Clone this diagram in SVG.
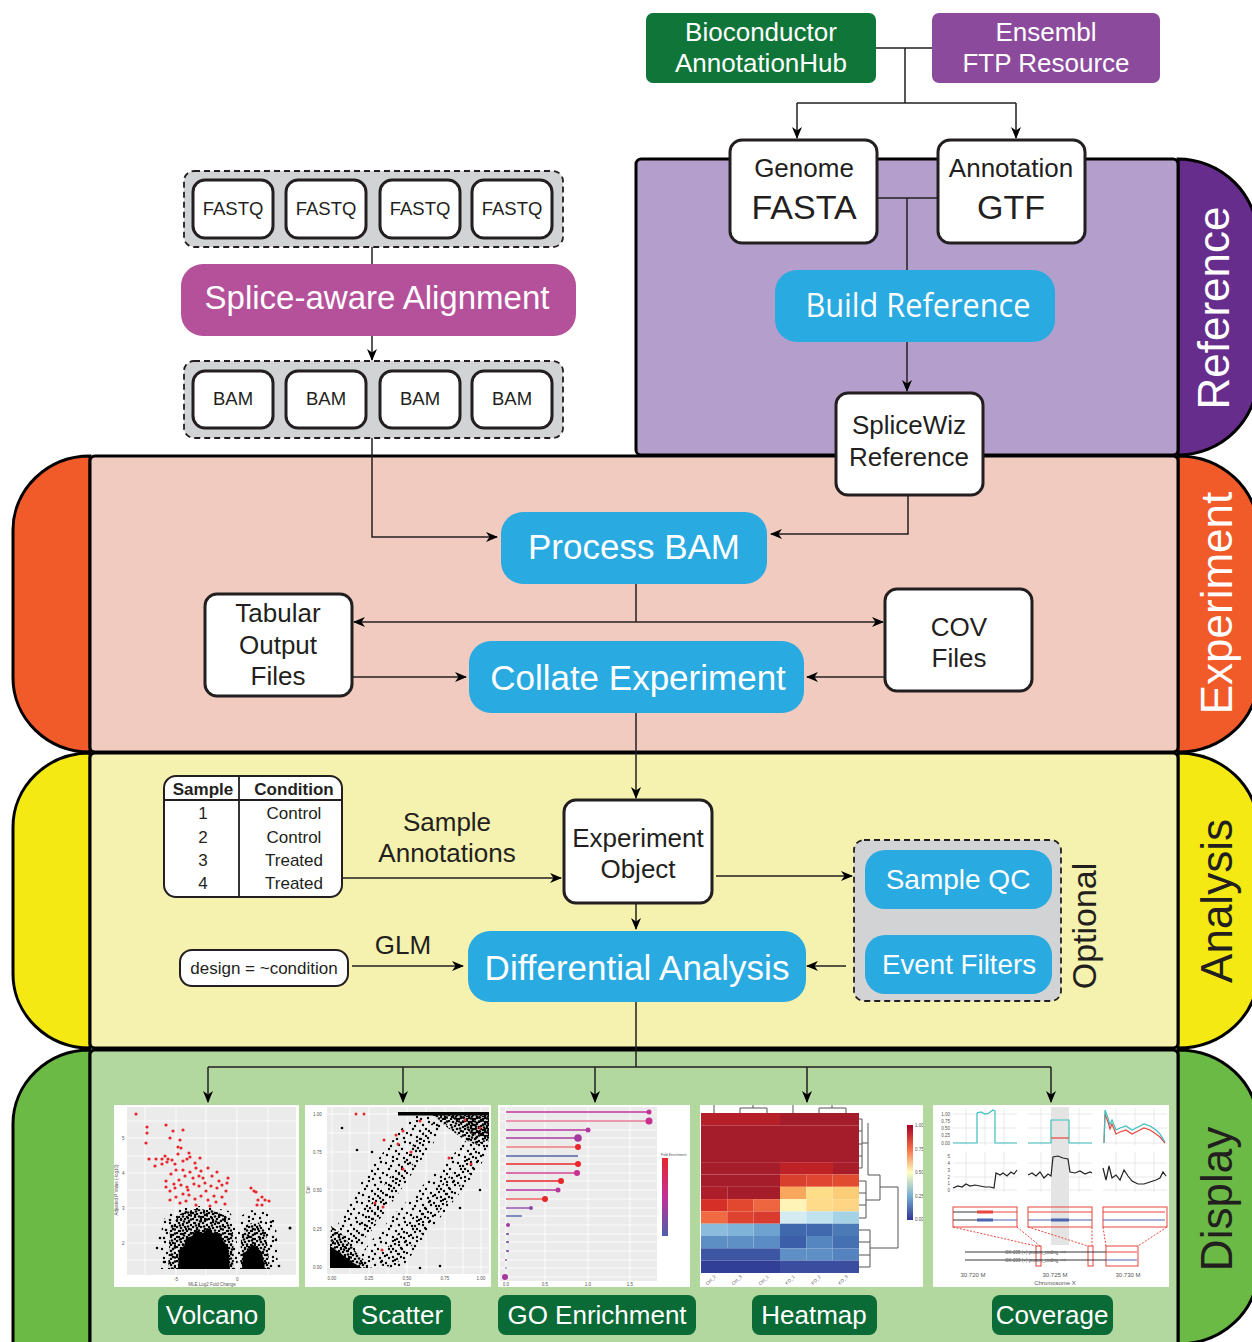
<svg xmlns="http://www.w3.org/2000/svg" width="1252" height="1342" viewBox="0 0 1252 1342">
<defs>
<style>
.t{font-family:"Liberation Sans",Arial,Helvetica,sans-serif}
.c{text-anchor:middle}
.w{fill:#fff}
.k{fill:#231f20}
.box{fill:#fff;stroke:#231f20;stroke-width:3}
.tbl{fill:#fff;stroke:#231f20;stroke-width:2}
.blue{fill:#29aae1}
.grp{fill:#d1d3d4;stroke:#231f20;stroke-width:1.8;stroke-dasharray:6 4}
.panel{stroke:#000;stroke-width:3}
.ln{fill:none;stroke:#231f20;stroke-width:1.5}
.arr{marker-end:url(#ah)}
.lbl{fill:#0b6b36}
.sec{font-size:44px}
.gl{stroke:#fff;stroke-width:0.8}
.tiny{font-size:4.5px;fill:#555}
</style>
<marker id="ah" viewBox="0 0 12 12" refX="11" refY="6" markerWidth="12" markerHeight="12" markerUnits="userSpaceOnUse" orient="auto">
<path d="M0,1 L12,6 L0,11 L3.5,6 Z" fill="#000"/>
</marker>
<!-- irregular dot tiles for the point clouds -->
<pattern id="psparse" width="24" height="20" patternUnits="userSpaceOnUse">
<g><circle cx="2" cy="3" r="1.2"/><circle cx="9" cy="1" r="1.2"/><circle cx="15" cy="5" r="1.2"/><circle cx="21" cy="2" r="1.2"/><circle cx="5" cy="9" r="1.2"/><circle cx="12" cy="11" r="1.2"/><circle cx="18" cy="9" r="1.2"/><circle cx="23" cy="13" r="1.2"/><circle cx="3" cy="15" r="1.2"/><circle cx="9" cy="17" r="1.2"/><circle cx="15" cy="14" r="1.2"/><circle cx="20" cy="18" r="1.2"/><circle cx="7" cy="6" r="1.2"/><circle cx="13" cy="19" r="1.2"/></g>
</pattern>
<pattern id="pdense" width="16" height="14" patternUnits="userSpaceOnUse">
<g><circle cx="1" cy="1" r="1.3"/><circle cx="5" cy="2" r="1.3"/><circle cx="9" cy="1" r="1.3"/><circle cx="13" cy="3" r="1.3"/><circle cx="3" cy="5" r="1.3"/><circle cx="7" cy="6" r="1.3"/><circle cx="11" cy="5" r="1.3"/><circle cx="15" cy="7" r="1.3"/><circle cx="1" cy="9" r="1.3"/><circle cx="5" cy="10" r="1.3"/><circle cx="9" cy="9" r="1.3"/><circle cx="13" cy="11" r="1.3"/><circle cx="3" cy="13" r="1.3"/><circle cx="7" cy="12.5" r="1.3"/><circle cx="11" cy="13" r="1.3"/><circle cx="15" cy="1.5" r="1.3"/><circle cx="8" cy="3.5" r="1.3"/><circle cx="12" cy="8.5" r="1.3"/><circle cx="4" cy="7.5" r="1.3"/><circle cx="15" cy="11.5" r="1.3"/></g>
</pattern>
<linearGradient id="goBar" x1="0" y1="0" x2="0" y2="1"><stop offset="0" stop-color="#e8262b"/><stop offset="0.5" stop-color="#c2309a"/><stop offset="1" stop-color="#4d5fab"/></linearGradient>
<linearGradient id="hmBar" x1="0" y1="0" x2="0" y2="1"><stop offset="0" stop-color="#a50026"/><stop offset="0.25" stop-color="#f46d43"/><stop offset="0.5" stop-color="#ffffbf"/><stop offset="0.75" stop-color="#74add1"/><stop offset="1" stop-color="#313695"/></linearGradient>
<clipPath id="cVol"><rect x="114" y="1105" width="185" height="182"/></clipPath>
<clipPath id="cSca"><rect x="305" y="1105" width="186" height="182"/></clipPath>
<clipPath id="cHm"><rect x="700" y="1105" width="223" height="182"/></clipPath>
</defs>

<!-- section tabs and panels -->
<g id="section-reference">
<path class="panel" fill="#662d8c" d="M1178,159 A80,80 0 0 1 1258,239 V375 A80,80 0 0 1 1178,455 Z"/>
<rect class="panel" x="636" y="159" width="542" height="296" rx="5" fill="#b49ecb"/>
<text class="t c w sec" transform="translate(1229,308) rotate(-90)">Reference</text>
</g>
<g id="section-experiment">
<path class="panel" fill="#f15a29" d="M90,456 A77,74 0 0 0 13,530 V678 A77,74 0 0 0 90,752 Z"/>
<path class="panel" fill="#f15a29" d="M1178,456 A80,74 0 0 1 1258,530 V678 A80,74 0 0 1 1178,752 Z"/>
<rect class="panel" x="90" y="456" width="1088" height="296" rx="5" fill="#f1cbc0"/>
<text class="t c w sec" transform="translate(1232,603) rotate(-90)">Experiment</text>
</g>
<g id="section-analysis">
<path class="panel" fill="#f4e913" d="M90,753 A77,74 0 0 0 13,827 V974 A77,74 0 0 0 90,1048 Z"/>
<path class="panel" fill="#f4e913" d="M1178,753 A80,74 0 0 1 1258,827 V974 A80,74 0 0 1 1178,1048 Z"/>
<rect class="panel" x="90" y="753" width="1088" height="295" rx="5" fill="#f5f1ae"/>
<text class="t c k sec" transform="translate(1232,901) rotate(-90)">Analysis</text>
</g>
<g id="section-display">
<path class="panel" fill="#6aba45" d="M90,1050 A77,74 0 0 0 13,1124 V1345 H90 Z"/>
<path class="panel" fill="#6aba45" d="M1178,1050 A80,74 0 0 1 1258,1124 V1270 A80,74 0 0 1 1178,1344 Z"/>
<rect class="panel" x="90" y="1050" width="1088" height="300" rx="5" fill="#b2d8a0"/>
<text class="t c k sec" transform="translate(1232,1199) rotate(-90)">Display</text>
</g>

<!-- connectors -->
<g id="connectors">
<path class="ln" d="M876,48 H932 M905,48 V103 M797,103 H1016"/>
<path class="ln arr" d="M797,103 V138"/>
<path class="ln arr" d="M1016,103 V138"/>
<path class="ln" d="M877,198 H938 M907,198 V270"/>
<path class="ln arr" d="M907,342 V391"/>
<path class="ln arr" d="M908,495 V534 H771"/>
<path class="ln" d="M372,247 V264"/>
<path class="ln arr" d="M372,336 V360"/>
<path class="ln arr" d="M372,438 V537 H497"/>
<path class="ln" d="M636,584 V622"/>
<path class="ln arr" d="M636,622 H354"/>
<path class="ln arr" d="M636,622 H883"/>
<path class="ln arr" d="M352,677 H466"/>
<path class="ln arr" d="M887,677 H807"/>
<path class="ln arr" d="M636,713 V798"/>
<path class="ln arr" d="M342,878 H561"/>
<path class="ln arr" d="M716,876 H852"/>
<path class="ln arr" d="M636,903 V929"/>
<path class="ln arr" d="M959,910 V934"/>
<path class="ln arr" d="M846,966 H807"/>
<path class="ln arr" d="M352,966 H463"/>
<path class="ln" d="M636,1002 V1067 M208,1067 H1051"/>
<path class="ln arr" d="M208,1067 V1102"/>
<path class="ln arr" d="M403,1067 V1102"/>
<path class="ln arr" d="M595,1067 V1102"/>
<path class="ln arr" d="M807,1067 V1102"/>
<path class="ln arr" d="M1051,1067 V1102"/>
</g>

<!-- reference sources -->
<g id="bioconductor">
<rect x="646" y="13" width="230" height="70" rx="7" fill="#0f7539"/>
<text class="t c w" font-size="26" x="761" y="41">Bioconductor</text>
<text class="t c w" font-size="26" x="761" y="72">AnnotationHub</text>
</g>
<g id="ensembl">
<rect x="932" y="13" width="228" height="70" rx="7" fill="#8c4a9d"/>
<text class="t c w" font-size="26" x="1046" y="41">Ensembl</text>
<text class="t c w" font-size="26" x="1046" y="72">FTP Resource</text>
</g>
<g id="genome-fasta">
<rect class="box" x="730" y="140" width="147" height="103" rx="12"/>
<text class="t c k" font-size="26" x="804" y="177">Genome</text>
<text class="t c k" font-size="34" x="804" y="219">FASTA</text>
</g>
<g id="annotation-gtf">
<rect class="box" x="938" y="140" width="147" height="103" rx="12"/>
<text class="t c k" font-size="26" x="1011" y="177">Annotation</text>
<text class="t c k" font-size="34" x="1011" y="219">GTF</text>
</g>
<g id="build-reference">
<rect class="blue" x="775" y="270" width="280" height="72" rx="22"/>
<text class="c w" font-family="'Open Sans','Noto Sans',sans-serif" font-size="33" x="918" y="317" textLength="225" lengthAdjust="spacingAndGlyphs">Build Reference</text>
</g>
<g id="splicewiz-reference">
<rect class="box" x="836" y="393" width="147" height="102" rx="12"/>
<text class="t c k" font-size="26" x="909" y="434">SpliceWiz</text>
<text class="t c k" font-size="26" x="909" y="466">Reference</text>
</g>

<!-- alignment inputs -->
<g id="fastq-files">
<rect class="grp" x="184" y="171" width="379" height="76" rx="10"/>
<rect class="box" x="193" y="180" width="80" height="58" rx="12"/>
<rect class="box" x="286" y="180" width="80" height="58" rx="12"/>
<rect class="box" x="380" y="180" width="80" height="58" rx="12"/>
<rect class="box" x="472" y="180" width="80" height="58" rx="12"/>
<text class="t c k" font-size="18.5" x="233" y="215">FASTQ</text>
<text class="t c k" font-size="18.5" x="326" y="215">FASTQ</text>
<text class="t c k" font-size="18.5" x="420" y="215">FASTQ</text>
<text class="t c k" font-size="18.5" x="512" y="215">FASTQ</text>
</g>
<g id="splice-aware-alignment">
<rect x="181" y="264" width="395" height="72" rx="22" fill="#b5519b"/>
<text class="t c w" font-size="33" x="377" y="309">Splice-aware Alignment</text>
</g>
<g id="bam-files">
<rect class="grp" x="184" y="361" width="379" height="77" rx="10"/>
<rect class="box" x="193" y="371" width="80" height="57" rx="12"/>
<rect class="box" x="286" y="371" width="80" height="57" rx="12"/>
<rect class="box" x="380" y="371" width="80" height="57" rx="12"/>
<rect class="box" x="472" y="371" width="80" height="57" rx="12"/>
<text class="t c k" font-size="18.5" x="233" y="405">BAM</text>
<text class="t c k" font-size="18.5" x="326" y="405">BAM</text>
<text class="t c k" font-size="18.5" x="420" y="405">BAM</text>
<text class="t c k" font-size="18.5" x="512" y="405">BAM</text>
</g>

<!-- experiment -->
<g id="process-bam">
<rect class="blue" x="501" y="512" width="266" height="72" rx="22"/>
<text class="t c w" font-size="35" x="634" y="559">Process BAM</text>
</g>
<g id="tabular-output">
<rect class="box" x="205" y="594" width="147" height="102" rx="12"/>
<text class="t c k" font-size="26" x="278" y="622">Tabular</text>
<text class="t c k" font-size="26" x="278" y="654">Output</text>
<text class="t c k" font-size="26" x="278" y="685">Files</text>
</g>
<g id="cov-files">
<rect class="box" x="885" y="589" width="147" height="102" rx="12"/>
<text class="t c k" font-size="26" x="959" y="636">COV</text>
<text class="t c k" font-size="26" x="959" y="667">Files</text>
</g>
<g id="collate-experiment">
<rect class="blue" x="469" y="641" width="335" height="72" rx="22"/>
<text class="t c w" font-size="35" x="638" y="690">Collate Experiment</text>
</g>

<!-- analysis -->
<g id="sample-table">
<rect class="tbl" x="164" y="776" width="178" height="121" rx="12"/>
<path d="M165,800 H341 M239,777 V896" stroke="#231f20" stroke-width="1.8"/>
<text class="t c k" font-size="17" font-weight="bold" x="203" y="795">Sample</text>
<text class="t c k" font-size="17" font-weight="bold" x="294" y="795">Condition</text>
<g class="t c k" font-size="17">
<text x="203" y="819">1</text><text x="294" y="819">Control</text>
<text x="203" y="843">2</text><text x="294" y="843">Control</text>
<text x="203" y="866">3</text><text x="294" y="866">Treated</text>
<text x="203" y="889">4</text><text x="294" y="889">Treated</text>
</g>
</g>
<g id="sample-annotations-label">
<text class="t c k" font-size="26" x="447" y="831">Sample</text>
<text class="t c k" font-size="26" x="447" y="862">Annotations</text>
</g>
<g id="experiment-object">
<rect class="box" x="564" y="800" width="148" height="103" rx="12"/>
<text class="t c k" font-size="26" x="638" y="847">Experiment</text>
<text class="t c k" font-size="26" x="638" y="878">Object</text>
</g>
<g id="optional-steps">
<rect class="grp" x="854" y="840" width="207" height="161" rx="10"/>
<text class="t c k" font-size="34" transform="translate(1096,926) rotate(-90)">Optional</text>
</g>
<g id="sample-qc">
<rect class="blue" x="865" y="850" width="187" height="59" rx="20"/>
<text class="t c w" font-size="28" x="958" y="889">Sample QC</text>
</g>
<g id="event-filters">
<rect class="blue" x="865" y="935" width="187" height="59" rx="20"/>
<text class="t c w" font-size="28" x="959" y="974" textLength="154" lengthAdjust="spacingAndGlyphs">Event Filters</text>
</g>
<g id="design-formula">
<rect class="tbl" x="180" y="950" width="168" height="36" rx="12"/>
<text class="t c k" font-size="17" x="264" y="974">design = ~condition</text>
</g>
<g id="glm-label">
<text class="t c k" font-size="26" x="403" y="954">GLM</text>
</g>
<g id="differential-analysis">
<rect class="blue" x="468" y="931" width="338" height="71" rx="22"/>
<text class="t c w" font-size="35" x="637" y="980">Differential Analysis</text>
</g>

<!-- display: volcano plot -->
<g id="volcano" clip-path="url(#cVol)">
<rect x="114" y="1105" width="185" height="182" fill="#fff"/>
<rect x="127" y="1107" width="169" height="168" fill="#ebebeb"/>
<path class="gl" d="M145,1107 V1275 M176,1107 V1275 M206,1107 V1275 M237,1107 V1275 M268,1107 V1275 M127,1121 H296 M127,1138 H296 M127,1156 H296 M127,1173 H296 M127,1190 H296 M127,1208 H296 M127,1225 H296 M127,1243 H296 M127,1260 H296"/>
<g class="t tiny"><text x="122" y="1140">5</text><text x="122" y="1175">4</text><text x="122" y="1210">3</text><text x="122" y="1245">2</text>
<text x="174" y="1281">-5</text><text x="236" y="1281">0</text>
<text class="c" x="212" y="1286">MLE Log2 Fold Change</text>
<text class="c" transform="translate(118,1190) rotate(-90)">Adjusted P Value (-log10)</text></g>
<path fill="url(#psparse)" d="M162,1222 L170,1211 L185,1208 L200,1206 L215,1208 L229,1211 L236,1222 L238,1269 L160,1269 Z"/>
<path fill="url(#pdense)" d="M168,1269 L170,1228 L180,1214 L195,1209 L212,1210 L226,1216 L233,1232 L234,1269 Z"/>
<path d="M178,1269 L179,1250 L184,1246 L186,1238 L192,1236 L196,1230 L203,1233 L208,1228 L214,1234 L220,1233 L224,1242 L228,1246 L230,1269 Z"/>
<path fill="url(#psparse)" d="M238,1218 L250,1210 L266,1212 L276,1222 L278,1269 L238,1269 Z"/>
<path fill="url(#pdense)" d="M240,1269 L241,1238 L248,1224 L258,1222 L266,1232 L270,1269 Z"/>
<path d="M242,1269 L243,1254 L248,1250 L252,1244 L257,1248 L262,1252 L265,1269 Z"/>
<g><circle cx="170" cy="1220" r="1.3"/><circle cx="172" cy="1226" r="1.3"/><circle cx="166" cy="1230" r="1.3"/><circle cx="290" cy="1228" r="1.5"/><circle cx="279" cy="1266" r="1.3"/><circle cx="271" cy="1222" r="1.3"/><circle cx="276" cy="1240" r="1.3"/><circle cx="160" cy="1238" r="1.3"/><circle cx="186" cy="1212" r="1.3"/><circle cx="157" cy="1248" r="1.3"/><circle cx="164" cy="1262" r="1.3"/></g>
<g fill="#e8262b">
<circle cx="136" cy="1114" r="1.6"/><circle cx="147" cy="1127" r="1.6"/><circle cx="147" cy="1133" r="1.6"/><circle cx="146" cy="1143" r="1.6"/><circle cx="166" cy="1125" r="1.6"/><circle cx="173" cy="1131" r="1.6"/><circle cx="183" cy="1130" r="1.6"/><circle cx="170" cy="1138" r="1.6"/><circle cx="178" cy="1147" r="1.6"/><circle cx="181" cy="1148" r="1.6"/><circle cx="165" cy="1156" r="1.6"/><circle cx="178" cy="1154" r="1.6"/><circle cx="187" cy="1159" r="1.6"/><circle cx="190" cy="1157" r="1.6"/><circle cx="183" cy="1161" r="1.6"/><circle cx="175" cy="1164" r="1.6"/><circle cx="195" cy="1163" r="1.6"/><circle cx="149" cy="1159" r="1.6"/><circle cx="156" cy="1159" r="1.6"/><circle cx="162" cy="1159" r="1.6"/><circle cx="168" cy="1159" r="1.6"/><circle cx="172" cy="1160" r="1.6"/><circle cx="162" cy="1164" r="1.6"/><circle cx="167" cy="1162" r="1.6"/><circle cx="176" cy="1170" r="1.6"/><circle cx="183" cy="1170" r="1.6"/><circle cx="190" cy="1172" r="1.6"/><circle cx="196" cy="1168" r="1.6"/><circle cx="201" cy="1171" r="1.6"/><circle cx="208" cy="1168" r="1.6"/><circle cx="212" cy="1176" r="1.6"/><circle cx="217" cy="1172" r="1.6"/><circle cx="203" cy="1178" r="1.6"/><circle cx="193" cy="1178" r="1.6"/><circle cx="185" cy="1176" r="1.6"/><circle cx="179" cy="1180" r="1.6"/><circle cx="171" cy="1174" r="1.6"/><circle cx="166" cy="1181" r="1.6"/><circle cx="166" cy="1187" r="1.6"/><circle cx="170" cy="1191" r="1.6"/><circle cx="175" cy="1188" r="1.6"/><circle cx="181" cy="1185" r="1.6"/><circle cx="187" cy="1187" r="1.6"/><circle cx="194" cy="1184" r="1.6"/><circle cx="199" cy="1186" r="1.6"/><circle cx="205" cy="1183" r="1.6"/><circle cx="211" cy="1186" r="1.6"/><circle cx="217" cy="1188" r="1.6"/><circle cx="222" cy="1185" r="1.6"/><circle cx="226" cy="1191" r="1.6"/><circle cx="227" cy="1183" r="1.6"/><circle cx="222" cy="1197" r="1.6"/><circle cx="214" cy="1196" r="1.6"/><circle cx="208" cy="1200" r="1.6"/><circle cx="201" cy="1196" r="1.6"/><circle cx="195" cy="1199" r="1.6"/><circle cx="189" cy="1195" r="1.6"/><circle cx="183" cy="1194" r="1.6"/><circle cx="176" cy="1197" r="1.6"/><circle cx="170" cy="1200" r="1.6"/><circle cx="180" cy="1203" r="1.6"/><circle cx="196" cy="1205" r="1.6"/><circle cx="210" cy="1206" r="1.6"/><circle cx="225" cy="1204" r="1.6"/><circle cx="228" cy="1178" r="1.6"/><circle cx="189" cy="1153" r="1.6"/><circle cx="180" cy="1140" r="1.6"/><circle cx="200" cy="1158" r="1.6"/><circle cx="155" cy="1166" r="1.6"/><circle cx="206" cy="1191" r="1.6"/><circle cx="188" cy="1190" r="1.6"/><circle cx="186" cy="1201" r="1.6"/><circle cx="216" cy="1202" r="1.6"/><circle cx="174" cy="1184" r="1.6"/><circle cx="199" cy="1176" r="1.6"/><circle cx="219" cy="1181" r="1.6"/>
<circle cx="251" cy="1188" r="1.6"/><circle cx="254" cy="1191" r="1.6"/><circle cx="256" cy="1192" r="1.6"/><circle cx="258" cy="1200" r="1.6"/><circle cx="262" cy="1197" r="1.6"/><circle cx="265" cy="1200" r="1.6"/><circle cx="269" cy="1201" r="1.6"/><circle cx="257" cy="1205" r="1.6"/><circle cx="262" cy="1205" r="1.6"/>
</g>
</g>

<!-- display: scatter plot -->
<g id="scatter" clip-path="url(#cSca)">
<rect x="305" y="1105" width="186" height="182" fill="#fff"/>
<rect x="327" y="1107" width="162" height="167" fill="#ebebeb"/>
<path class="gl" d="M332,1107 V1274 M350,1107 V1274 M369,1107 V1274 M388,1107 V1274 M407,1107 V1274 M426,1107 V1274 M445,1107 V1274 M463,1107 V1274 M481,1107 V1274 M327,1114 H489 M327,1133 H489 M327,1152 H489 M327,1171 H489 M327,1190 H489 M327,1210 H489 M327,1229 H489 M327,1248 H489 M327,1267 H489"/>
<g class="t tiny"><text x="313" y="1116">1.00</text><text x="313" y="1154">0.75</text><text x="313" y="1192">0.50</text><text x="313" y="1231">0.25</text><text x="313" y="1269">0.00</text>
<text class="c" x="332" y="1280">0.00</text><text class="c" x="369" y="1280">0.25</text><text class="c" x="407" y="1280">0.50</text><text class="c" x="445" y="1280">0.75</text><text class="c" x="481" y="1280">1.00</text>
<text class="c" x="407" y="1286">KD</text><text class="c" transform="translate(310,1190) rotate(-90)">Ctrl</text></g>
<path fill="url(#psparse)" d="M331,1250 L336,1228 L350,1200 L368,1172 L388,1146 L405,1124 L418,1114 L455,1114 L440,1134 L420,1162 L398,1194 L372,1230 L352,1262 L336,1266 Z"/>
<path fill="url(#psparse)" transform="translate(3,2)" d="M340,1250 L356,1220 L376,1190 L395,1164 L412,1140 L428,1122 L440,1116 L425,1140 L405,1170 L385,1200 L362,1236 Z"/>
<path fill="url(#psparse)" d="M350,1268 L372,1240 L398,1210 L424,1184 L450,1158 L470,1136 L487,1120 L489,1152 L472,1178 L448,1208 L424,1238 L402,1268 Z"/>
<path fill="url(#psparse)" transform="translate(2,3)" d="M372,1262 L395,1232 L420,1204 L445,1176 L468,1150 L484,1132 L484,1150 L462,1178 L438,1208 L412,1240 L392,1264 Z"/>
<path fill="url(#pdense)" d="M430,1113 L489,1113 L489,1140 L476,1145 L462,1138 L448,1128 Z"/>
<path fill="url(#pdense)" transform="translate(4,3)" d="M446,1113 L485,1113 L485,1134 L470,1132 Z"/>
<rect x="398" y="1112" width="91" height="3.5"/>
<path d="M330,1268 L330,1246 L336,1250 L344,1256 L352,1262 L362,1268 Z"/>
<path fill="url(#pdense)" d="M330,1246 L331,1226 L342,1234 L356,1252 L372,1268 L352,1268 Z"/>
<circle cx="342" cy="1128" r="1.3"/><circle cx="357" cy="1150" r="1.3"/><circle cx="372" cy="1152" r="1.3"/><circle cx="420" cy="1268" r="1.3"/><circle cx="440" cy="1266" r="1.3"/><circle cx="480" cy="1190" r="1.3"/><circle cx="460" cy="1208" r="1.3"/>
<g fill="#e8262b"><circle cx="356" cy="1114" r="1.5"/><circle cx="364" cy="1114" r="1.5"/><circle cx="384" cy="1140" r="1.5"/><circle cx="396" cy="1135" r="1.5"/><circle cx="403" cy="1131" r="1.5"/><circle cx="398" cy="1144" r="1.5"/><circle cx="411" cy="1152" r="1.5"/><circle cx="403" cy="1169" r="1.5"/><circle cx="375" cy="1203" r="1.5"/><circle cx="383" cy="1207" r="1.5"/><circle cx="382" cy="1250" r="1.5"/><circle cx="449" cy="1158" r="1.5"/><circle cx="465" cy="1120" r="1.5"/><circle cx="480" cy="1128" r="1.5"/><circle cx="471" cy="1164" r="1.5"/><circle cx="420" cy="1121" r="1.5"/></g>
</g>

<!-- display: GO enrichment lollipop -->
<g id="go-enrichment">
<rect x="498" y="1105" width="192" height="182" fill="#fff"/>
<rect x="500" y="1107" width="157" height="174" fill="#ebebeb"/>
<path class="gl" d="M506,1107 V1281 M545,1107 V1281 M588,1107 V1281 M630,1107 V1281 M500,1112 H657 M500,1121 H657 M500,1130 H657 M500,1138 H657 M500,1147 H657 M500,1156 H657 M500,1164 H657 M500,1173 H657 M500,1181 H657 M500,1190 H657 M500,1199 H657 M500,1208 H657 M500,1216 H657 M500,1225 H657 M500,1234 H657 M500,1242 H657 M500,1251 H657 M500,1260 H657 M500,1268 H657 M500,1277 H657"/>
<g stroke-width="1.4">
<path stroke="#c2309a" d="M506,1112 H649"/><path stroke="#e8789a" d="M506,1121 H649"/><path stroke="#b8359c" d="M506,1130 H588"/><path stroke="#a7389d" d="M506,1138 H578"/><path stroke="#ee7a7a" d="M506,1147 H578"/><path stroke="#5360a8" d="M506,1156 H578"/><path stroke="#e8262b" d="M506,1164 H578"/><path stroke="#d04590" d="M506,1173 H577"/><path stroke="#e8262b" d="M506,1181 H561"/><path stroke="#b8359c" d="M506,1190 H558"/><path stroke="#ee6060" d="M506,1199 H545"/><path stroke="#8b47a5" d="M506,1208 H531"/><path stroke="#4d5fab" d="M506,1216 H522"/><path stroke="#7a4ba5" d="M506,1234 H508 M506,1242 H508 M506,1251 H508"/>
</g>
<g>
<circle cx="649" cy="1112" r="2.5" fill="#c2309a"/><circle cx="649" cy="1121" r="3.5" fill="#c8308f"/><circle cx="588" cy="1130" r="2.5" fill="#b8359c"/><circle cx="578" cy="1138" r="3.8" fill="#a7389d"/><circle cx="578" cy="1147" r="3" fill="#e8262b"/><circle cx="578" cy="1164" r="3" fill="#e8262b"/><circle cx="577" cy="1173" r="3" fill="#c8308f"/><circle cx="561" cy="1181" r="3" fill="#e8262b"/><circle cx="558" cy="1190" r="2.5" fill="#b8359c"/><circle cx="545" cy="1199" r="3" fill="#e8262b"/><circle cx="531" cy="1208" r="2" fill="#8b47a5"/><circle cx="508" cy="1225" r="2" fill="#a7389d"/><circle cx="508" cy="1234" r="1" fill="#7a4ba5"/><circle cx="508" cy="1242" r="1" fill="#7a4ba5"/><circle cx="508" cy="1251" r="1" fill="#7a4ba5"/><circle cx="506" cy="1260" r="0.9" fill="#7a4ba5"/><circle cx="506" cy="1268" r="0.8" fill="#7a4ba5"/><circle cx="505" cy="1277" r="3" fill="#a7389d"/>
</g>
<rect x="662" y="1158" width="6" height="78" fill="url(#goBar)"/>
<g class="t tiny"><text x="661" y="1156" font-size="3.5">Fold Enrichment</text>
<text class="c" x="506" y="1286">0.0</text><text class="c" x="545" y="1286">0.5</text><text class="c" x="588" y="1286">1.0</text><text class="c" x="630" y="1286">1.5</text></g>
</g>

<!-- display: heatmap -->
<g id="heatmap" clip-path="url(#cHm)">
<rect x="700" y="1105" width="223" height="182" fill="#fff"/>
<path fill="none" stroke="#555" stroke-width="1" d="M714,1113 V1104 H753 V1108 M740,1113 V1108 H767 V1113 M793,1113 V1103 H832 V1108 M819,1113 V1108 H846 V1113"/>
<g>
<rect x="701" y="1113" width="79" height="12.3" fill="#b51f27"/><rect x="780" y="1113" width="79" height="12.3" fill="#a51c2b"/>
<rect x="701" y="1125.3" width="158" height="37" fill="#a51c2b"/>
<rect x="701" y="1162.2" width="79" height="12.3" fill="#a51c2b"/><rect x="780" y="1162.2" width="53" height="12.3" fill="#be2126"/><rect x="833" y="1162.2" width="26" height="12.3" fill="#a91c2a"/>
<rect x="701" y="1174.5" width="79" height="12.3" fill="#a51c2b"/><rect x="780" y="1174.5" width="26.3" height="12.3" fill="#d8402d"/><rect x="806.3" y="1174.5" width="26.3" height="12.3" fill="#df4530"/><rect x="832.6" y="1174.5" width="26.4" height="12.3" fill="#e14c31"/>
<rect x="701" y="1186.8" width="26.3" height="12.3" fill="#ae1e2a"/><rect x="727.3" y="1186.8" width="52.7" height="12.3" fill="#a51c2b"/><rect x="780" y="1186.8" width="26.3" height="12.3" fill="#f8a85d"/><rect x="806.3" y="1186.8" width="26.3" height="12.3" fill="#fddd88"/><rect x="832.6" y="1186.8" width="26.4" height="12.3" fill="#fccd77"/>
<rect x="701" y="1199.1" width="26.3" height="12.3" fill="#d62f27"/><rect x="727.3" y="1199.1" width="26.3" height="12.3" fill="#e2482f"/><rect x="753.6" y="1199.1" width="26.4" height="12.3" fill="#ee6640"/><rect x="780" y="1199.1" width="26.3" height="12.3" fill="#fff4b8"/><rect x="806.3" y="1199.1" width="26.3" height="12.3" fill="#fedb8a"/><rect x="832.6" y="1199.1" width="26.4" height="12.3" fill="#fdd584"/>
<rect x="701" y="1211.4" width="26.3" height="12.3" fill="#f06a42"/><rect x="727.3" y="1211.4" width="26.3" height="12.3" fill="#de432f"/><rect x="753.6" y="1211.4" width="26.4" height="12.3" fill="#d93c2e"/><rect x="780" y="1211.4" width="26.3" height="12.3" fill="#d4ebf2"/><rect x="806.3" y="1211.4" width="26.3" height="12.3" fill="#c0e2ef"/><rect x="832.6" y="1211.4" width="26.4" height="12.3" fill="#a6d2e6"/>
<rect x="701" y="1223.7" width="26.3" height="12.3" fill="#8bbcdb"/><rect x="727.3" y="1223.7" width="26.3" height="12.3" fill="#7fb3d7"/><rect x="753.6" y="1223.7" width="26.4" height="12.3" fill="#6fa3cf"/><rect x="780" y="1223.7" width="26.3" height="12.3" fill="#4068ad"/><rect x="806.3" y="1223.7" width="26.3" height="12.3" fill="#4169ad"/><rect x="832.6" y="1223.7" width="26.4" height="12.3" fill="#4c7ab6"/>
<rect x="701" y="1236" width="26.3" height="12.3" fill="#5d8fc5"/><rect x="727.3" y="1236" width="26.3" height="12.3" fill="#5e90c5"/><rect x="753.6" y="1236" width="26.4" height="12.3" fill="#5b8cc3"/><rect x="780" y="1236" width="26.3" height="12.3" fill="#3c5fa9"/><rect x="806.3" y="1236" width="26.3" height="12.3" fill="#5586c0"/><rect x="832.6" y="1236" width="26.4" height="12.3" fill="#4570b1"/>
<rect x="701" y="1248.3" width="79" height="12.3" fill="#3c56a4"/><rect x="780" y="1248.3" width="26.3" height="12.3" fill="#5f90c5"/><rect x="806.3" y="1248.3" width="26.3" height="12.3" fill="#5e8fc5"/><rect x="832.6" y="1248.3" width="26.4" height="12.3" fill="#5583bf"/>
<rect x="701" y="1260.6" width="79" height="12.4" fill="#313f96"/><rect x="780" y="1260.6" width="79" height="12.4" fill="#3b4d9f"/>
</g>
<path fill="none" stroke="#555" stroke-width="1" d="M859,1119 H862 M859,1131 H862 M859,1144 H862 M859,1156 H862 M859,1168 H862 M862,1119 V1168 M862,1143 H868 M868,1123 V1175 H880 M859,1181 H866 M859,1193 H866 M859,1205 H866 M859,1218 H866 M866,1181 V1218 M866,1200 H880 M880,1175 V1200 M880,1187 H898 M859,1230 H870 M859,1242 H870 M859,1255 H870 M859,1267 H870 M870,1230 V1267 M870,1248 H898 M898,1187 V1248"/>
<rect x="907" y="1125" width="6" height="95" fill="url(#hmBar)"/>
<g class="t tiny" font-size="3.5"><text x="915" y="1127">1.00</text><text x="915" y="1151">0.75</text><text x="915" y="1174">0.50</text><text x="915" y="1198">0.25</text><text x="915" y="1221">0.00</text></g>
<g class="t tiny" font-size="4" text-anchor="end">
<text transform="translate(716,1277) rotate(-45)">Ctrl_2</text><text transform="translate(742,1277) rotate(-45)">Ctrl_3</text><text transform="translate(769,1277) rotate(-45)">Ctrl_1</text><text transform="translate(795,1277) rotate(-45)">KD_1</text><text transform="translate(821,1277) rotate(-45)">KD_2</text><text transform="translate(848,1277) rotate(-45)">KD_3</text>
</g>
</g>

<!-- display: coverage tracks -->
<g id="coverage">
<rect x="933" y="1105" width="236" height="182" fill="#fff"/>
<rect x="1051" y="1107" width="18" height="138" fill="#d9d9d9" opacity="0.7"/>
<path stroke="#e3e3e3" stroke-width="0.8" d="M953,1114 H1017 M953,1128 H1017 M953,1143 H1017 M1028,1114 H1092 M1028,1128 H1092 M1028,1143 H1092 M1103,1114 H1167 M1103,1128 H1167 M1103,1143 H1167 M966,1108 V1145 M985,1108 V1145 M1004,1108 V1145 M1041,1108 V1145 M1060,1108 V1145 M1079,1108 V1145 M1116,1108 V1145 M1135,1108 V1145 M1154,1108 V1145 M953,1163 H1017 M953,1177 H1017 M953,1190 H1017 M1028,1163 H1092 M1028,1177 H1092 M1028,1190 H1092 M1103,1163 H1167 M1103,1177 H1167 M1103,1190 H1167 M966,1152 V1192 M985,1152 V1192 M1004,1152 V1192 M1041,1152 V1192 M1060,1152 V1192 M1079,1152 V1192 M1116,1152 V1192 M1135,1152 V1192 M1154,1152 V1192"/>
<g class="t tiny" font-size="5" text-anchor="end" fill="#444">
<text x="950" y="1116">1.00</text><text x="950" y="1123">0.75</text><text x="950" y="1130">0.50</text><text x="950" y="1137">0.25</text><text x="950" y="1145">0.00</text>
<text x="950" y="1158">5</text><text x="950" y="1165">4</text><text x="950" y="1172">3</text><text x="950" y="1179">2</text><text x="950" y="1185">1</text><text x="950" y="1192">0</text>
</g>
<g fill="none" stroke-width="1.2">
<path stroke="#3cbfbf" d="M953,1143 H977 V1113 L981,1112 L985,1114 L989,1113 L993,1110 L995,1111 V1143 H1017"/>
<path stroke="#3cbfbf" d="M1028,1143 H1051 V1120 H1069 V1143 H1092"/>
<path stroke="#e8453c" d="M1051,1138 H1069"/>
<path stroke="#e8453c" d="M1104,1143 L1105,1114 L1108,1122 L1110,1129 L1112,1124 L1116,1134 L1120,1132 L1126,1130 L1132,1134 L1138,1131 L1144,1128 L1150,1130 L1156,1134 L1160,1137 L1165,1143"/>
<path stroke="#3cbfbf" d="M1104,1143 L1105,1110 L1108,1118 L1110,1125 L1112,1120 L1116,1130 L1120,1128 L1126,1126 L1132,1130 L1138,1127 L1144,1124 L1150,1126 L1156,1130 L1160,1134 L1165,1142"/>
<path stroke="#222" d="M953,1188 L958,1186 L962,1187 L966,1184 L970,1186 L975,1185 L980,1186 L985,1187 L990,1187 L994,1188 L996,1173 L1000,1175 L1003,1173 L1007,1176 L1011,1172 L1014,1174 L1017,1170"/>
<path stroke="#222" d="M1028,1175 L1032,1173 L1036,1176 L1040,1172 L1044,1178 L1048,1174 L1051,1176 L1053,1157 L1058,1156 L1063,1158 L1068,1159 L1070,1172 L1075,1173 L1080,1171 L1085,1174 L1090,1172 L1092,1173"/>
<path stroke="#222" d="M1103,1168 L1106,1180 L1109,1166 L1112,1178 L1116,1175 L1120,1180 L1124,1170 L1128,1176 L1132,1181 L1138,1184 L1144,1184 L1150,1182 L1156,1180 L1160,1178 L1163,1172 L1166,1176"/>
</g>
<g fill="none" stroke="#e8453c" stroke-width="1">
<rect x="953" y="1207" width="64" height="20"/><rect x="1028" y="1207" width="64" height="20"/><rect x="1103" y="1207" width="64" height="20"/>
<path stroke-dasharray="2 1.5" d="M953,1227 L1036,1246 M1017,1227 L1040,1246 M1028,1227 L1088,1246 M1092,1227 L1092,1246 M1103,1227 L1106,1246 M1167,1227 L1138,1246"/>
<rect x="1036" y="1246" width="5" height="20"/><rect x="1088" y="1246" width="5" height="20"/><rect x="1106" y="1246" width="32" height="20"/>
</g>
<path stroke="#222" stroke-width="0.9" d="M953,1212 H977 M953,1220 H977 M965,1252 H1106 M965,1260 H1106"/>
<path stroke="#e8453c" stroke-width="1" d="M977,1212 H1017 M1028,1212 H1092 M1103,1212 H1165 M1106,1252 H1137"/>
<path stroke="#4a62b0" stroke-width="1" d="M977,1220 H1017 M1028,1220 H1092 M1103,1220 H1165 M1106,1260 H1137"/>
<path stroke="#e8453c" stroke-width="3" d="M977,1212 H993"/>
<path stroke="#4a62b0" stroke-width="3" d="M977,1220 H993 M1051,1220 H1069"/>
<g class="t tiny" font-size="4" fill="#555"><text x="1005" y="1254">GK-205 (+) protein_coding -&gt;&gt;</text><text x="1005" y="1262">GK-203 (+) protein_coding -&gt;&gt;</text></g>
<g class="t c" font-size="6" fill="#555"><text x="973" y="1277">30.720 M</text><text x="1055" y="1277">30.725 M</text><text x="1128" y="1277">30.730 M</text><text x="1055" y="1285">Chromosome X</text></g>
</g>

<!-- display labels -->
<g id="label-volcano"><rect class="lbl" x="158" y="1295" width="107" height="40" rx="8"/><text class="t c w" font-size="26" x="212" y="1324">Volcano</text></g>
<g id="label-scatter"><rect class="lbl" x="353" y="1295" width="98" height="40" rx="8"/><text class="t c w" font-size="26" x="402" y="1324">Scatter</text></g>
<g id="label-go"><rect class="lbl" x="498" y="1295" width="198" height="40" rx="8"/><text class="t c w" font-size="26" x="597" y="1324">GO Enrichment</text></g>
<g id="label-heatmap"><rect class="lbl" x="752" y="1295" width="125" height="40" rx="8"/><text class="t c w" font-size="26" x="814" y="1324">Heatmap</text></g>
<g id="label-coverage"><rect class="lbl" x="992" y="1295" width="121" height="40" rx="8"/><text class="t c w" font-size="26" x="1052" y="1324">Coverage</text></g>
</svg>
